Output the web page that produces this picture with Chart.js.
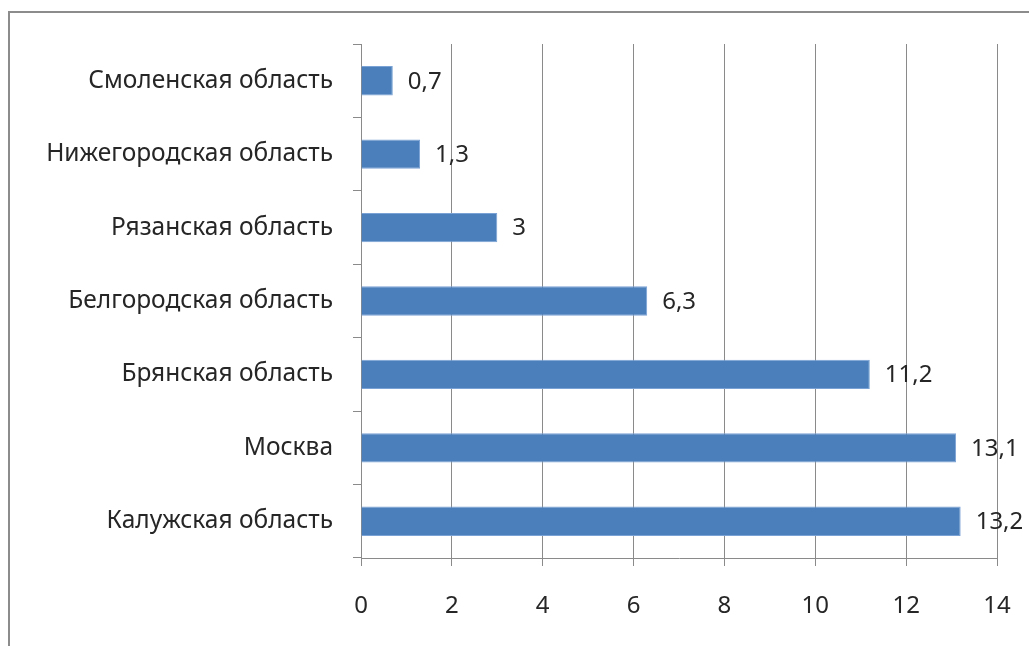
<!DOCTYPE html>
<html>
<head>
<meta charset="utf-8">
<script src="https://cdn.jsdelivr.net/npm/chart.js@4"></script>
<style>
  html, body { margin: 0; padding: 0; background: #fff; overflow: hidden; }
  #wrap { position: relative; width: 1029px; height: 646px; }
  #frame { position: absolute; left: 8px; top: 11px; width: 1100px; height: 700px;
           border: 2px solid #8c8c8c; box-sizing: border-box; }
  canvas { position: absolute; left: 0; top: 0; }
</style>
</head>
<body>
<div id="wrap">
  <div id="frame"></div>
  <canvas id="chart" width="1029" height="646"></canvas>
</div>
<script>
// ── Данные ───────────────────────────────────────────────
const regions = [
    'Смоленская область',
    'Нижегородская область',
    'Рязанская область',
    'Белгородская область',
    'Брянская область',
    'Москва',
    'Калужская область'
];
const values = [0.7, 1.3, 3, 6.3, 11.2, 13.1, 13.2];

const FONT = '"Noto Sans", sans-serif';
const TEXT = '#262626';
const GRID = '#8a8a8a';

// Подписи значений справа от столбцов (запятая как десятичный разделитель)
const barLabels = {
    id: 'barLabels',
    afterDatasetsDraw(chart) {
        const ctx = chart.ctx;
        const meta = chart.getDatasetMeta(0);
        ctx.save();
        ctx.font = '24px ' + FONT;
        ctx.fillStyle = TEXT;
        ctx.textBaseline = 'middle';
        ctx.textAlign = 'left';
        meta.data.forEach((bar, i) => {
            const txt = String(values[i]).replace('.', ',');
            ctx.fillText(txt, bar.x + 15, bar.y + 1);
        });
        ctx.restore();
    }
};

new Chart(document.getElementById('chart').getContext('2d'), {
    type: 'bar',
    data: {
        labels: regions,
        datasets: [{
            data: values,
            backgroundColor: '#4a7fbc',
            borderColor: '#7aa2d4',
            borderWidth: 1,
            barPercentage: 0.4,
            categoryPercentage: 1.0
        }]
    },
    options: {
        indexAxis: 'y',
        responsive: false,
        animation: false,
        devicePixelRatio: 1,
        layout: { padding: { top: 44, right: 32, left: 0, bottom: 0 } },
        plugins: { legend: { display: false }, tooltip: { enabled: false } },
        scales: {
            x: {
                min: 0, max: 14,
                ticks: { stepSize: 2, color: TEXT, font: { family: FONT, size: 24 }, padding: 26 },
                grid: { color: GRID, lineWidth: 1, tickLength: 8 },
                border: { color: GRID, width: 1 },
                afterFit(s) { s.height = 88; s.paddingLeft = 0; s.paddingRight = 0; }
            },
            y: {
                ticks: { color: TEXT, font: { family: FONT, size: 24.5 }, padding: 20 },
                grid: { drawOnChartArea: false, color: GRID, tickLength: 8, offset: true },
                border: { color: GRID, width: 1 },
                afterFit(s) { s.width = 361; s.paddingTop = 0; s.paddingBottom = 0; }
            }
        }
    },
    plugins: [barLabels]
});
</script>
</body>
</html>
